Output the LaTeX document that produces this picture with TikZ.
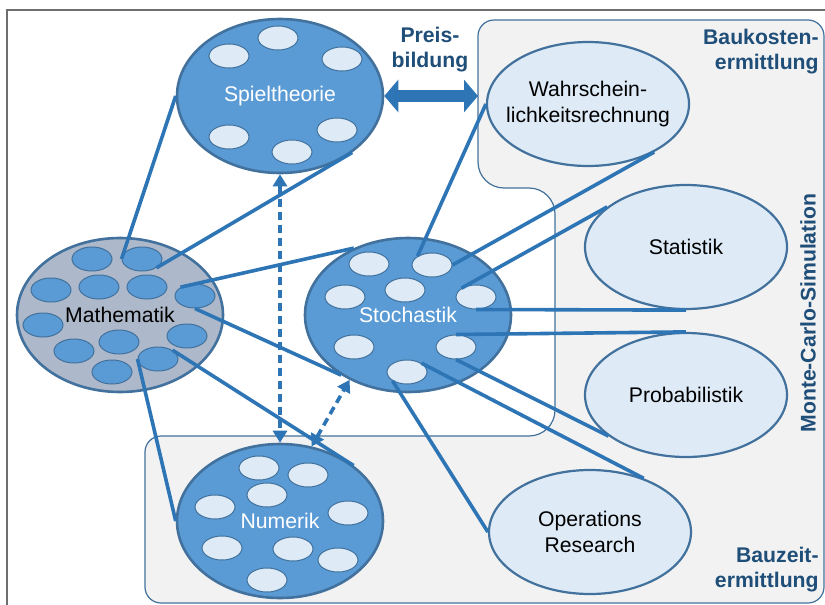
\documentclass[tikz,border=0pt]{standalone}
\usepackage{fontspec}
\setmainfont{Liberation Sans}
\usetikzlibrary{arrows.meta, shapes.geometric}

\definecolor{blau}{HTML}{5B9BD5}
\definecolor{rand}{HTML}{41719C}
\definecolor{linie}{HTML}{2E75B6}
\definecolor{hell}{HTML}{DEEBF7}
\definecolor{grau}{HTML}{ADB9CA}
\definecolor{flaeche}{HTML}{F2F2F2}
\definecolor{dunkelblau}{HTML}{1F4E79}
\definecolor{rahmen}{HTML}{6E6E6E}

\begin{document}
\begin{tikzpicture}[x=0.5pt, y=-0.5pt,
    font=\fontsize{10.6}{12.6}\selectfont,
    gebiet/.style={ellipse, draw=rand, line width=1.3pt, minimum width=103pt, minimum height=77pt, inner sep=0pt},
    fach/.style={ellipse, draw=rand, line width=1.1pt, fill=hell, minimum width=101pt, minimum height=62pt, inner sep=0pt},
    punkt/.style={ellipse, draw=rand, line width=0.5pt, minimum width=20pt, minimum height=12pt, inner sep=0pt},
    weiss/.style={text=white},
    bezug/.style={linie, line width=1.8pt},
    wechsel/.style={linie, line width=1.8pt, dash pattern=on 4pt off 2.5pt, {Triangle[length=6pt,width=7pt]}-{Triangle[length=6pt,width=7pt]}},
    preis/.style={linie, line width=6pt, {Triangle[length=7pt,width=16pt]}-{Triangle[length=7pt,width=16pt]}},
    ueberschrift/.style={text=dunkelblau, font=\fontsize{10.6}{12.2}\selectfont\bfseries, inner sep=0pt}]
    \useasboundingbox (0,0) rectangle (825,605);
    \clip (0,0) rectangle (825,605);
    % Rahmen und Flaechen
    \draw[rahmen, line width=1pt] (7,610) -- (7,10) -- (830,10);
    \draw[fill=flaeche, draw=rand, line width=0.6pt, rounded corners=8pt]
        (478,100) -- (478,20) -- (824,20) -- (824,603) -- (145,603) -- (145,436)
        [rounded corners=13pt] -- (555,436) -- (555,188) -- (478,188) -- cycle;
    \coordinate (kante) at (478,96);
    % Fachgebiete
    \node[gebiet, fill=blau, label={[weiss]center:Spieltheorie}] (spiel) at (280,96) {};
    \node[gebiet, fill=grau, label={center:Mathematik}] (mathe) at (120,315) {};
    \node[gebiet, fill=blau, label={[weiss]center:Stochastik}] (stoch) at (408,315) {};
    \node[gebiet, fill=blau, label={[weiss]center:Numerik}] (numerik) at (280,521) {};
    \node[fach, label={[align=center]center:{Wahrschein-\\lichkeitsrechnung}}] (wahr) at (588,104) {};
    \node[fach, label={center:Statistik}] (stat) at (686,247) {};
    \node[fach, label={center:Probabilistik}] (prob) at (686,395) {};
    \node[fach, label={[align=center]center:{Operations\\Research}}] (ops) at (590,532) {};
    % kleine Ellipsen
    \foreach \n/\px/\py in {1/92/259, 2/142/259, 3/51/290, 4/99/287, 5/147/287, 6/195/296,
                            7/43/325, 8/187/336, 9/119/342, 10/74/351, 11/158/359, 12/112/372}
        \node[punkt, fill=blau] (m\n) at (\px,\py) {};
    \foreach \n/\px/\py in {1/369/264, 2/432/265, 3/345/297, 4/405/290,
                            5/476/297, 6/354/347, 7/456/347, 8/407/372}
        \node[punkt, fill=hell] (s\n) at (\px,\py) {};
    \foreach \n/\px/\py in {1/278/38, 2/229/56, 3/342/59, 4/229/137, 5/337/130, 6/292/152}
        \node[punkt, fill=hell] (p\n) at (\px,\py) {};
    \foreach \n/\px/\py in {1/259/468, 2/308/475, 3/267/495, 4/215/507, 5/348/513,
                            6/222/548, 7/293/549, 8/338/560, 9/267/580}
        \node[punkt, fill=hell] (n\n) at (\px,\py) {};
    % Verbindungen
    \draw[bezug] (m2.west) -- (spiel.west);
    \draw[bezug] (m2.south east) -- (spiel.-38);
    \draw[bezug] (m6.north west) -- (stoch.129);
    \draw[bezug] (m6.south) -- (stoch.222);
    \draw[bezug] (m11.north east) -- (numerik.37);
    \draw[bezug] (m11.west) -- (numerik.west);
    \draw[bezug] (s2.north west) -- (wahr.west);
    \draw[bezug] (s2.east) -- (wahr.-36);
    \draw[bezug] (s5.north west) -- (stat.153);
    \draw[bezug] (s5.south) -- (stat.south);
    \draw[bezug] (s7.north) -- (prob.north);
    \draw[bezug] (s7.south) -- (prob.208);
    \draw[bezug] (s8.north east) -- (ops.45);
    \draw[bezug] (s8.south west) -- (ops.west);
    % Wechselwirkungen
    \draw[wechsel] (spiel.south) -- (numerik.north);
    \draw[wechsel] (numerik.67) -- (stoch.228);
    \draw[preis] (spiel.east) -- (kante);
    % Beschriftungen
    \node[ueberschrift, align=center, anchor=north] (pb) at (430,27) {Preis-\\bildung};
    \node[ueberschrift, align=right, anchor=north east] (bk) at (819,29) {Baukosten-\\ermittlung};
    \node[ueberschrift, align=right, anchor=north east] (bz) at (819,547) {Bauzeit-\\ermittlung};
    \node[ueberschrift, rotate=90] (mcs) at (808,313) {Monte-Carlo-Simulation};
\end{tikzpicture}
\end{document}
